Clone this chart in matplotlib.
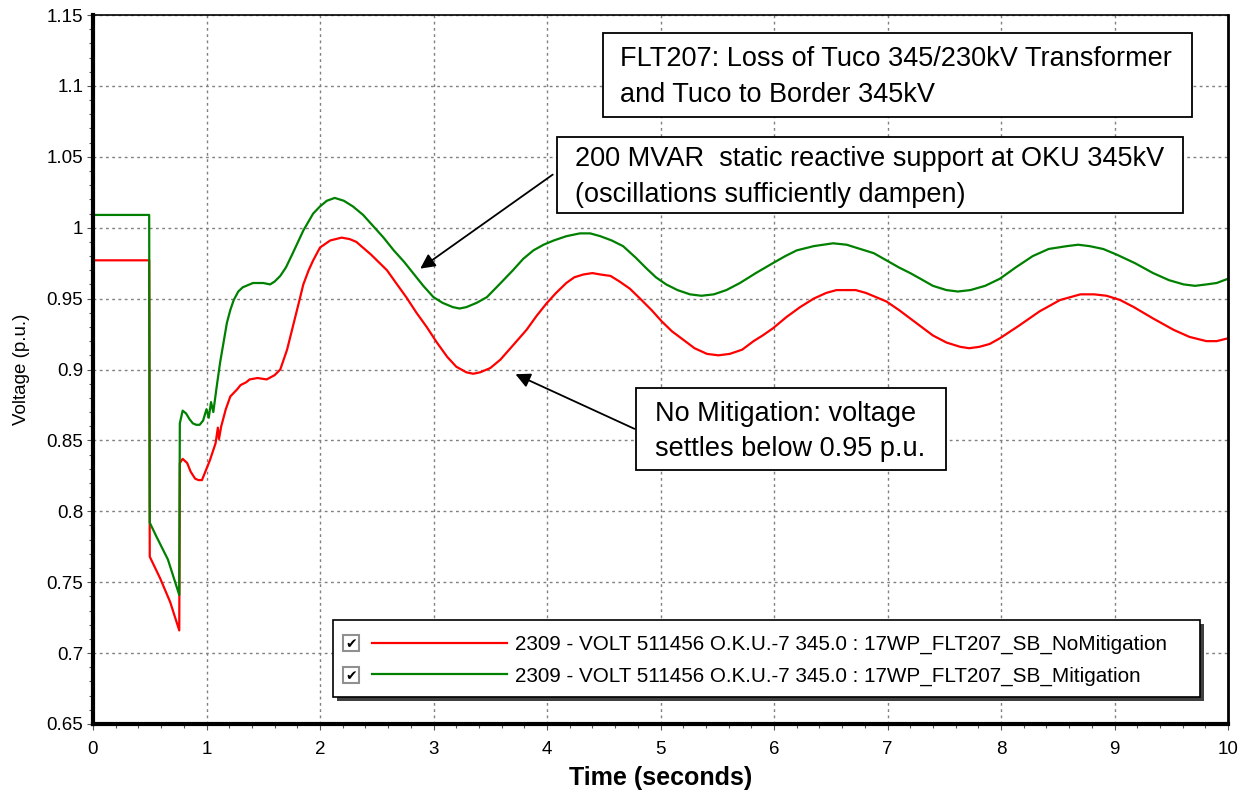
import matplotlib
matplotlib.use("Agg")
import matplotlib.pyplot as plt
from matplotlib.patches import Rectangle
from matplotlib.ticker import MultipleLocator

plt.rcParams['font.family'] = ['Liberation Sans', 'DejaVu Sans']

# time (s) and bus voltage (p.u.)
t_nomit = [0, 0.495, 0.5, 0.59, 0.68, 0.76, 0.765, 0.79, 0.83, 0.86, 0.90, 0.93, 0.96, 0.98,
           1.03, 1.08, 1.10, 1.11, 1.13, 1.17, 1.21, 1.27, 1.30, 1.35, 1.38, 1.45, 1.53, 1.60,
           1.65, 1.71, 1.76, 1.81, 1.853, 1.90, 1.94, 2.0, 2.09, 2.19, 2.26, 2.32, 2.45, 2.59,
           2.67, 2.76, 2.85, 2.94, 3.03, 3.12, 3.20, 3.29, 3.35, 3.41, 3.50, 3.59, 3.70, 3.82,
           3.91, 4.0, 4.08, 4.17, 4.24, 4.32, 4.40, 4.47, 4.56, 4.64, 4.73, 4.82, 4.92, 5.01,
           5.10, 5.20, 5.30, 5.41, 5.51, 5.61, 5.72, 5.82, 5.90, 5.99, 6.11, 6.23, 6.35, 6.46,
           6.55, 6.64, 6.72, 6.81, 6.90, 6.99, 7.10, 7.20, 7.30, 7.40, 7.52, 7.64, 7.72, 7.81,
           7.90, 7.99, 8.16, 8.34, 8.52, 8.70, 8.82, 8.93, 9.05, 9.17, 9.34, 9.52, 9.66, 9.81,
           9.90, 10.0]
v_nomit = [0.977, 0.977, 0.768, 0.753, 0.736, 0.716, 0.834, 0.837, 0.834, 0.828, 0.823, 0.822, 0.822, 0.826,
           0.836, 0.848, 0.859, 0.851, 0.860, 0.872, 0.881, 0.886, 0.889, 0.891, 0.893, 0.894, 0.893, 0.896,
           0.900, 0.914, 0.930, 0.946, 0.960, 0.970, 0.977, 0.986, 0.991, 0.993, 0.992, 0.990, 0.981, 0.970,
           0.961, 0.951, 0.940, 0.930, 0.919, 0.909, 0.902, 0.898, 0.897, 0.898, 0.901, 0.907, 0.917, 0.928,
           0.938, 0.947, 0.954, 0.961, 0.965, 0.967, 0.968, 0.967, 0.966, 0.962, 0.957, 0.950, 0.942, 0.934,
           0.927, 0.921, 0.915, 0.911, 0.910, 0.911, 0.914, 0.920, 0.924, 0.929, 0.937, 0.944, 0.950, 0.954,
           0.956, 0.956, 0.956, 0.954, 0.951, 0.948, 0.942, 0.936, 0.930, 0.924, 0.919, 0.916, 0.915, 0.916,
           0.918, 0.922, 0.931, 0.941, 0.949, 0.953, 0.953, 0.952, 0.949, 0.944, 0.936, 0.928, 0.923, 0.920,
           0.920, 0.922]

t_mit = [0, 0.495, 0.5, 0.56, 0.66, 0.76, 0.765, 0.79, 0.82, 0.85, 0.88, 0.91, 0.94, 0.97,
         1.0, 1.02, 1.04, 1.06, 1.09, 1.12, 1.15, 1.18, 1.21, 1.24, 1.28, 1.32, 1.41, 1.50,
         1.56, 1.60, 1.65, 1.70, 1.76, 1.853, 1.94, 2.0, 2.06, 2.13, 2.21, 2.29, 2.38, 2.47,
         2.56, 2.65, 2.74, 2.82, 2.91, 3.0, 3.08, 3.17, 3.23, 3.29, 3.38, 3.47, 3.58, 3.70,
         3.79, 3.88, 3.97, 4.06, 4.17, 4.29, 4.38, 4.47, 4.57, 4.67, 4.78, 4.88, 4.96, 5.05,
         5.15, 5.26, 5.36, 5.47, 5.58, 5.70, 5.84, 5.99, 6.10, 6.20, 6.35, 6.52, 6.64, 6.76,
         6.88, 6.99, 7.10, 7.20, 7.29, 7.40, 7.52, 7.62, 7.73, 7.86, 7.99, 8.13, 8.28, 8.42,
         8.58, 8.68, 8.78, 8.90, 9.02, 9.18, 9.34, 9.48, 9.61, 9.71, 9.81, 9.90, 10.0]
v_mit = [1.009, 1.009, 0.792, 0.782, 0.766, 0.741, 0.862, 0.871, 0.869, 0.865, 0.862, 0.861, 0.861, 0.864,
         0.872, 0.866, 0.877, 0.870, 0.888, 0.905, 0.919, 0.933, 0.942, 0.949, 0.955, 0.958, 0.961, 0.961,
         0.960, 0.962, 0.966, 0.972, 0.982, 0.998, 1.010, 1.015, 1.019, 1.021, 1.019, 1.015, 1.009, 1.001,
         0.993, 0.984, 0.976, 0.968, 0.959, 0.951, 0.947, 0.944, 0.943, 0.944, 0.947, 0.951, 0.960, 0.970,
         0.978, 0.984, 0.988, 0.991, 0.994, 0.996, 0.996, 0.994, 0.991, 0.987, 0.979, 0.971, 0.965, 0.960,
         0.956, 0.953, 0.952, 0.953, 0.956, 0.961, 0.968, 0.975, 0.980, 0.984, 0.987, 0.989, 0.988, 0.985,
         0.982, 0.977, 0.972, 0.968, 0.964, 0.959, 0.956, 0.955, 0.956, 0.959, 0.964, 0.972, 0.980, 0.985,
         0.987, 0.988, 0.987, 0.985, 0.981, 0.975, 0.968, 0.963, 0.960, 0.959, 0.960, 0.961, 0.964]

label_nomit = "2309 - VOLT 511456 O.K.U.-7 345.0 : 17WP_FLT207_SB_NoMitigation"
label_mit = "2309 - VOLT 511456 O.K.U.-7 345.0 : 17WP_FLT207_SB_Mitigation"

W, H = 1248, 796
fig = plt.figure(figsize=(W / 100, H / 100), dpi=100)
ax = fig.add_axes([93 / W, 1 - 724 / H, (1228 - 93) / W, (724 - 15) / H])

l1, = ax.plot(t_nomit, v_nomit, color='#ff0000', lw=1.6)
l2, = ax.plot(t_mit, v_mit, color='#008000', lw=1.6)

ax.set_xlim(0, 10)
ax.set_ylim(0.65, 1.15)
ax.xaxis.set_major_locator(MultipleLocator(1))
ax.xaxis.set_minor_locator(MultipleLocator(0.2))
ax.yaxis.set_minor_locator(MultipleLocator(0.01))
ax.set_yticks([0.65, 0.7, 0.75, 0.8, 0.85, 0.9, 0.95, 1.0, 1.05, 1.1, 1.15])
ax.set_yticklabels(['0.65', '0.7', '0.75', '0.8', '0.85', '0.9', '0.95', '1', '1.05', '1.1', '1.15'])
ax.grid(True, which='major', color='#808080', linestyle=(0, (2, 2.5)), lw=1.0)
ax.tick_params(which='major', length=4, width=0.8, color='#555555', labelsize=13.5, pad=3)
ax.tick_params(axis='x', which='major', pad=8)
ax.tick_params(which='minor', length=3, width=0.8, color='#555555')
ax.spines['left'].set_linewidth(3)
ax.spines['bottom'].set_linewidth(3)
ax.spines['top'].set_linewidth(1.2)
ax.spines['right'].set_linewidth(2)

ax.set_xlabel("Time (seconds)", fontsize=18, fontweight='bold', labelpad=6)
ax.set_ylabel("Voltage (p.u.)", fontsize=13.5, labelpad=12)

# legend box with shadow and checkboxes
fig.add_artist(Rectangle((337 / W, 1 - 701 / H), 867 / W, 77 / H, transform=fig.transFigure,
                         facecolor='#404040', edgecolor='none', zorder=4))
fig.add_artist(Rectangle((333 / W, 1 - 697 / H), 867 / W, 77 / H, transform=fig.transFigure,
                         facecolor='white', edgecolor='black', lw=1.2, zorder=4.5))
leg = fig.legend([l1, l2], [label_nomit, label_mit], loc='upper left',
                 bbox_to_anchor=(372 / W, 1 - 635 / H), frameon=False, fontsize=14.9,
                 handlelength=6.5, handletextpad=0.4, borderpad=0, borderaxespad=0,
                 labelspacing=0.6)
leg.set_zorder(5)
for yc in (643, 675):
    fig.add_artist(Rectangle((343 / W, 1 - (yc + 8) / H), 16 / W, 16 / H, transform=fig.transFigure,
                             facecolor='white', edgecolor='#909090', lw=1.5, zorder=5))
    fig.text(351 / W, 1 - (yc + 1) / H, '\u2714', ha='center', va='center', fontsize=10,
             family='DejaVu Sans', zorder=6)

# annotation boxes
boxes = [
    ((603, 33, 1192, 117), 620, "FLT207: Loss of Tuco 345/230kV Transformer\nand Tuco to Border 345kV"),
    ((557, 137, 1183, 213), 575, "200 MVAR  static reactive support at OKU 345kV\n(oscillations sufficiently dampen)"),
    ((636, 388, 946, 470), 655, "No Mitigation: voltage\nsettles below 0.95 p.u."),
]
for (x0, y0, x1, y1), tx, txt in boxes:
    fig.add_artist(Rectangle((x0 / W, 1 - y1 / H), (x1 - x0) / W, (y1 - y0) / H,
                             transform=fig.transFigure, facecolor='white', edgecolor='black',
                             lw=1.3, zorder=3))
    fig.text(tx / W, 1 - ((y0 + y1) / 2 + 2) / H, txt, ha='left', va='center', fontsize=19.5,
             linespacing=1.45, zorder=3.5)

ax.annotate('', xy=(2.863, 0.970), xytext=(555, H - 173), textcoords='figure pixels',
            arrowprops=dict(arrowstyle='-|>', color='black', lw=1.3, mutation_scale=22))
ax.annotate('', xy=(3.70, 0.8975), xytext=(637, H - 430), textcoords='figure pixels',
            arrowprops=dict(arrowstyle='-|>', color='black', lw=1.3, mutation_scale=22))

fig.savefig("out.png", dpi=100)
